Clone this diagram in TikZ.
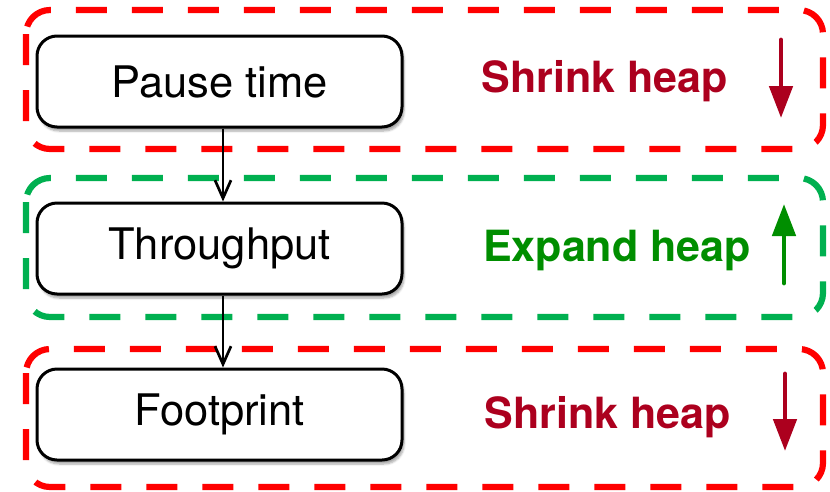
\documentclass[tikz,border=0pt]{standalone}
\usepackage{fontspec}
\setmainfont{TeX Gyre Heros}
\usetikzlibrary{arrows.meta,shadows.blur}
\definecolor{framered}{RGB}{255,0,0}
\definecolor{framegreen}{RGB}{0,176,80}
\definecolor{labelred}{RGB}{172,0,30}
\definecolor{labelgreen}{RGB}{0,142,0}
\tikzset{
  stagebox/.style={draw=black, line width=3pt, rounded corners=20pt, fill=white,
    minimum width=365pt, minimum height=91pt, inner sep=0pt,
    blur shadow={shadow xshift=2pt, shadow yshift=-4pt, shadow blur steps=6, shadow opacity=35},
    font=\fontsize{43.5}{50}\selectfont},
  framebox/.style={line width=6.2pt, rounded corners=24pt, dash pattern=on 31pt off 25pt},
  heaplabel/.style={font=\fontsize{43}{50}\selectfont\bfseries},
  flow/.style={line width=2.7pt, -{Straight Barb[length=18pt,width=16pt,line width=2.7pt]}},
  trend/.style={line width=4.8pt, -{Triangle[length=32pt,width=23pt]}, line cap=round}
}
\begin{document}
\begin{tikzpicture}[x=1pt,y=-1pt]
  \useasboundingbox (0,0) rectangle (830,491);

  % dashed group frames
  \draw[framebox, framered]   (26,10)  rectangle (823,149);
  \draw[framebox, framegreen] (26,178) rectangle (823,317);
  \draw[framebox, framered]   (26,349) rectangle (823,487);

  % stages of the policy
  \node[stagebox] (pause) at (219.5,81.5)  {Pause time};
  \node[stagebox] (thru)  at (219.5,248.5) {Throughput};
  \node[stagebox] (foot)  at (219.5,414.5) {Footprint};

  \draw[flow] (pause.south -| 223,0) -- (thru.north -| 223,0);
  \draw[flow] (thru.south -| 223,0) -- (foot.north -| 223,0);

  % heap actions
  \node[heaplabel, text=labelred]   (shrinkA) at (605,81)  {Shrink heap};
  \node[heaplabel, text=labelgreen] (expand)  at (617,251) {Expand heap};
  \node[heaplabel, text=labelred]   (shrinkB) at (608,417) {Shrink heap};

  \coordinate (dA1) at (781,40);  \coordinate (dA2) at (781,118);
  \coordinate (up1) at (784,283); \coordinate (up2) at (784,204);
  \coordinate (dB1) at (785,374); \coordinate (dB2) at (785,451);
  \draw[trend, labelred]   (dA1) -- (dA2);
  \draw[trend, labelgreen] (up1) -- (up2);
  \draw[trend, labelred]   (dB1) -- (dB2);
\end{tikzpicture}
\end{document}
